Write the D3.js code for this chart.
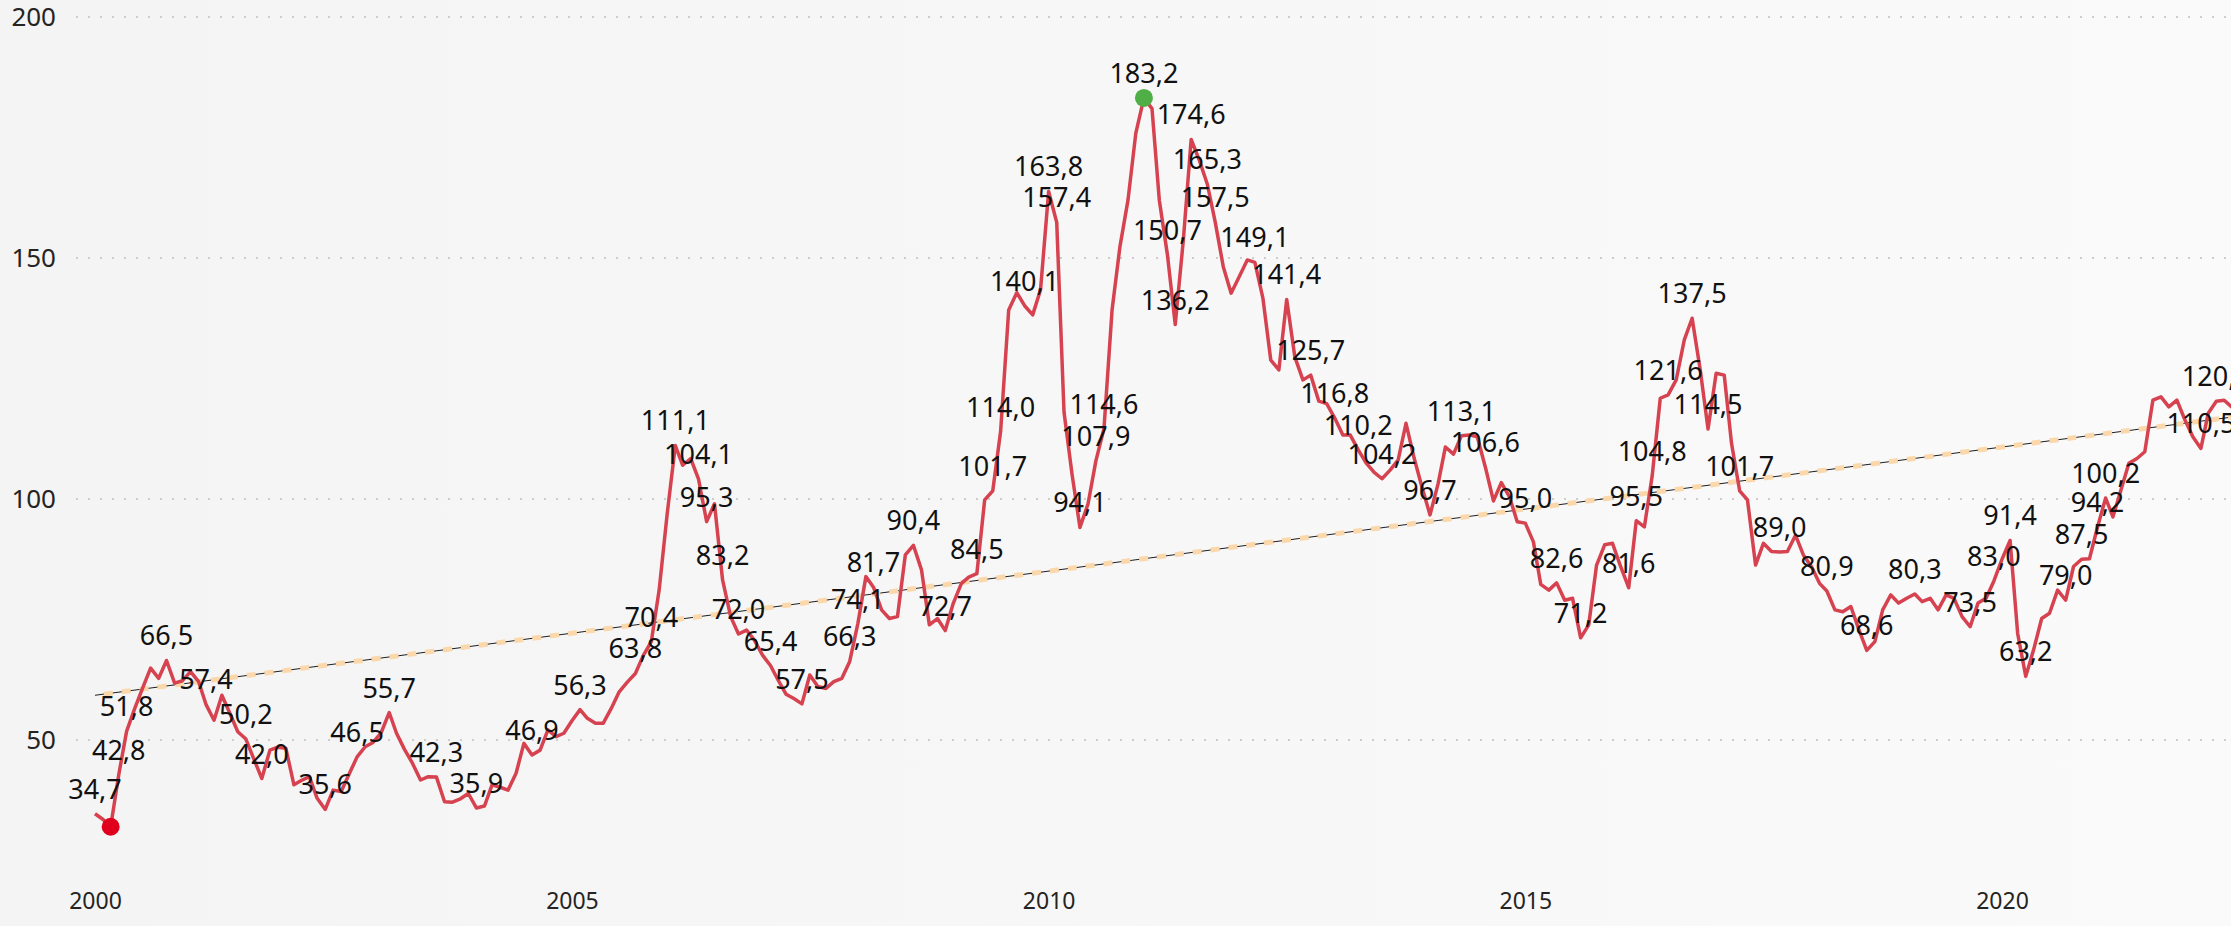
<!DOCTYPE html>
<html>
<head>
<meta charset="utf-8">
<script src="https://cdn.jsdelivr.net/npm/d3@7"></script>
<style>
  html, body { margin: 0; padding: 0; overflow: hidden; }
  body { width: 2231px; height: 926px; }
  svg { display: block; font-family: "Segoe UI", "Noto Sans", sans-serif; }
</style>
</head>
<body>
<svg id="chart" width="2231" height="926"></svg>
<script>
// monthly index values, Jan 2000 onwards
const startMonth = new Date(2000, 0, 1);
const values = [
  34.7, 33.5, 32.0, 42.8, 51.8, 56.5, 60.7, 64.9, 62.8, 66.5, 61.8, 62.3,
  64.2, 62.1, 57.4, 54.1, 59.3, 55.5, 51.7, 50.2, 46.0, 42.0, 47.9, 48.5,
  48.3, 40.7, 41.6, 42.4, 37.9, 35.6, 39.6, 39.3, 43.0, 46.5, 48.6, 49.5,
  51.5, 55.7, 51.4, 48.0, 45.2, 41.7, 42.4, 42.3, 37.2, 37.1, 37.8, 38.9,
  35.9, 36.3, 40.7, 40.2, 39.6, 43.1, 49.3, 46.9, 47.9, 52.1, 50.7, 51.4,
  54.0, 56.3, 54.5, 53.5, 53.5, 56.6, 60.0, 62.0, 63.8, 67.5, 70.4, 81.1,
  97.0, 111.1, 107.0, 108.4, 104.1, 95.3, 99.0, 83.2, 75.6, 72.0, 72.8, 70.7,
  67.6, 65.4, 62.5, 59.5, 58.6, 57.5, 63.5, 61.1, 60.7, 62.1, 62.8, 66.3,
  74.1, 83.9, 81.7, 77.0, 75.2, 75.6, 88.4, 90.4, 85.3, 73.9, 75.2, 72.7,
  78.4, 82.5, 83.8, 84.5, 99.8, 101.7, 114.0, 139.2, 142.8, 140.1, 138.2, 143.4,
  163.8, 157.4, 118.0, 105.0, 94.1, 99.0, 107.9, 114.6, 139.2, 152.3, 162.0, 175.9,
  183.2, 181.0, 162.0, 150.7, 136.2, 153.7, 174.6, 170.3, 165.3, 157.5, 148.2, 142.7,
  146.1, 149.6, 149.1, 141.6, 128.8, 126.8, 141.4, 129.5, 124.7, 125.7, 120.3, 119.8,
  116.8, 113.3, 113.3, 110.2, 107.5, 105.5, 104.2, 106.0, 108.1, 115.7, 108.5, 102.5,
  96.7, 103.2, 110.8, 109.3, 113.1, 113.3, 112.9, 106.6, 99.6, 103.4, 100.5, 95.3,
  95.0, 91.1, 82.3, 81.1, 82.6, 79.0, 79.4, 71.2, 73.9, 86.3, 90.5, 90.8,
  86.0, 81.6, 95.5, 94.2, 104.8, 120.9, 121.6, 124.7, 133.0, 137.5, 126.8, 114.5,
  126.1, 125.7, 111.5, 101.7, 99.8, 86.3, 90.8, 89.1, 89.0, 89.1, 92.5, 88.4,
  86.0, 82.5, 80.9, 77.0, 76.6, 77.7, 73.0, 68.6, 70.4, 77.0, 80.1, 78.4,
  79.4, 80.3, 78.7, 79.4, 77.0, 80.1, 79.4, 75.6, 73.5, 78.4, 79.4, 83.0,
  87.5, 91.4, 72.1, 63.2, 68.7, 75.2, 76.3, 81.1, 79.0, 86.0, 87.5, 87.6,
  94.2, 100.2, 96.3, 101.9, 107.4, 108.4, 109.8, 120.5, 121.2, 119.1, 120.5, 116.5,
  112.9, 110.5, 117.8, 120.3, 120.5, 119.0
];
// months (index into values) that carry a data label
const labelMonths = [
  0, 3, 4, 9, 14, 19, 21, 29, 33, 37, 43, 48, 55, 61, 68, 70, 73, 76, 77, 79,
  81, 85, 89, 95, 96, 98, 103, 107, 111, 113, 114, 117, 120, 121, 124, 126, 127,
  132, 135, 136, 138, 140, 141, 146, 150, 153, 156, 159, 162, 168, 172, 175,
  180, 184, 187, 193, 194, 196, 198, 201, 203, 207, 212, 218, 223, 229, 236,
  239, 241, 243, 248, 250, 252, 253, 265, 267
];
const yTicks = [50, 100, 150, 200];
const xTickYears = [2000, 2005, 2010, 2015, 2020];

const data = values.map((v, i) => ({ i, date: d3.timeMonth.offset(startMonth, i), value: v }));

const svg = d3.select("#chart");
const width = +svg.attr("width"), height = +svg.attr("height");

const locale = d3.formatLocale({ decimal: ",", thousands: ".", grouping: [3], currency: ["", "€"] });
const fmt = locale.format(".1f");

// background
const defs = svg.append("defs");
const grad = defs.append("linearGradient").attr("id", "bg").attr("x1", 0).attr("x2", 1).attr("y1", 0).attr("y2", 0);
grad.append("stop").attr("offset", 0).attr("stop-color", "#f4f4f4");
grad.append("stop").attr("offset", 1).attr("stop-color", "#fafafa");
svg.append("rect").attr("width", width).attr("height", height).attr("fill", "url(#bg)");

const x = d3.scaleTime()
  .domain([new Date(2000, 0, 1), new Date(2020, 0, 1)])
  .range([95, 2002]);
const y = d3.scaleLinear().domain([50, 200]).range([740, 17]);

// gridlines
svg.append("g")
  .selectAll("line")
  .data(yTicks)
  .enter()
  .append("line")
  .attr("x1", 76).attr("x2", width)
  .attr("y1", d => y(d)).attr("y2", d => y(d))
  .attr("stroke", "#cdcdcd")
  .attr("stroke-width", 2)
  .attr("stroke-dasharray", "2,10");

// y axis
const yAxis = svg.append("g")
  .attr("transform", "translate(56,0)")
  .call(d3.axisLeft(y).tickValues(yTicks).tickSize(0).tickPadding(0).tickFormat(d3.format("d")));
yAxis.attr("font-family", null).attr("font-size", null);
yAxis.select(".domain").remove();
yAxis.selectAll("text").style("font-size", "26px").attr("fill", "#252423");

// x axis
const xAxis = svg.append("g")
  .attr("transform", "translate(0,893)")
  .call(d3.axisBottom(x).tickValues(xTickYears.map(yr => new Date(yr, 0, 1))).tickSize(0).tickPadding(0).tickFormat(d3.timeFormat("%Y")));
xAxis.attr("font-family", null).attr("font-size", null);
xAxis.select(".domain").remove();
xAxis.selectAll("text").style("font-size", "23px").attr("fill", "#252423");

// trend line (least squares on month index)
const reg = (() => {
  const mx = d3.mean(data, d => d.i), my = d3.mean(data, d => d.value);
  const sxy = d3.sum(data, d => (d.i - mx) * (d.value - my));
  const sxx = d3.sum(data, d => (d.i - mx) * (d.i - mx));
  const b = sxy / sxx;
  return { a: my - b * mx, b };
})();
const trend = [data[0], data[data.length - 1]].map(d => ({ date: d.date, value: reg.a + reg.b * d.i }));
const line = d3.line().x(d => x(d.date)).y(d => y(d.value));

svg.append("path")
  .datum(trend)
  .attr("d", line)
  .attr("fill", "none")
  .attr("stroke", "#fbd8ab")
  .attr("stroke-width", 5)
  .attr("stroke-dasharray", "9,9")
  .attr("stroke-dashoffset", -9);
svg.append("path")
  .datum(trend)
  .attr("d", line)
  .attr("fill", "none")
  .attr("stroke", "#1e1e1e")
  .attr("stroke-width", 1)
  .attr("stroke-dasharray", "9,9");

// main series
svg.append("path")
  .datum(data)
  .attr("d", line)
  .attr("fill", "none")
  .attr("stroke", "#d6424f")
  .attr("stroke-width", 3.5)
  .attr("stroke-linejoin", "round");

// min / max markers
const minPt = data[d3.minIndex(data, d => d.value)];
const maxPt = data[d3.maxIndex(data, d => d.value)];
svg.append("circle").attr("cx", x(minPt.date)).attr("cy", y(minPt.value)).attr("r", 9).attr("fill", "#e0001e");
svg.append("circle").attr("cx", x(maxPt.date)).attr("cy", y(maxPt.value)).attr("r", 9).attr("fill", "#4fae45");

// data labels
svg.append("g")
  .selectAll("text")
  .data(labelMonths.map(i => data[i]))
  .enter()
  .append("text")
  .attr("x", d => x(d.date))
  .attr("y", d => y(d.value) - 15)
  .attr("text-anchor", "middle")
  .attr("font-size", 27)
  .attr("fill", "#111")
  .text(d => fmt(d.value));
</script>
</body>
</html>
